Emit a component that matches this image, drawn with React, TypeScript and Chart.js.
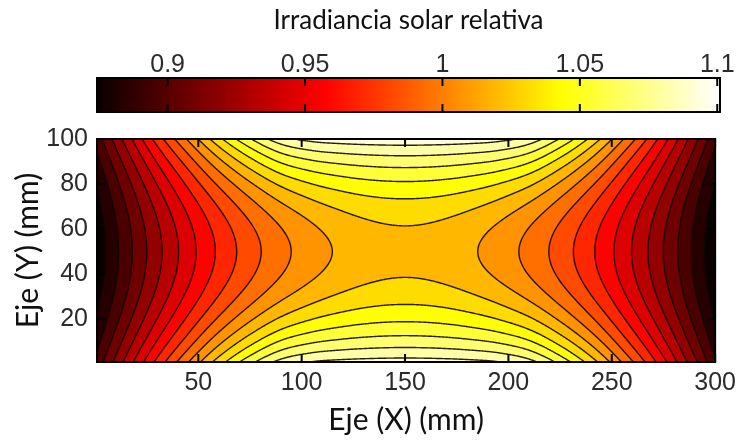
import React, { useEffect, useRef } from "react";
import { Chart, registerables } from "chart.js";

Chart.register(...registerables);

// Sampling grid of the measurement plane (mm)
const xPositionsMm = [0, 15, 30, 45, 60, 75, 90, 105, 120, 135, 150, 165, 180, 195, 210, 225, 240, 255, 270, 285, 300];
const yPositionsMm = [0, 10, 20, 30, 40, 50, 60, 70, 80, 90, 100];

// Relative solar irradiance, one row per y position (y = 0 first)
const irradianceRows: number[][] = [
  [0.8993, 0.9379, 0.9751, 1.0085, 1.0405, 1.0676, 1.0884, 1.0969, 1.0995, 1.1006, 1.1010, 1.1006, 1.0995, 1.0969, 1.0884, 1.0676, 1.0405, 1.0085, 0.9751, 0.9379, 0.8993],
  [0.8899, 0.9252, 0.9584, 0.9881, 1.0159, 1.0393, 1.0577, 1.0670, 1.0714, 1.0738, 1.0746, 1.0738, 1.0714, 1.0670, 1.0577, 1.0393, 1.0159, 0.9881, 0.9584, 0.9252, 0.8899],
  [0.8826, 0.9153, 0.9455, 0.9723, 0.9967, 1.0173, 1.0337, 1.0437, 1.0496, 1.0530, 1.0541, 1.0530, 1.0496, 1.0437, 1.0337, 1.0173, 0.9967, 0.9723, 0.9455, 0.9153, 0.8826],
  [0.8774, 0.9082, 0.9362, 0.9610, 0.9830, 1.0016, 1.0166, 1.0271, 1.0340, 1.0381, 1.0394, 1.0381, 1.0340, 1.0271, 1.0166, 1.0016, 0.9830, 0.9610, 0.9362, 0.9082, 0.8774],
  [0.8743, 0.9040, 0.9307, 0.9542, 0.9748, 0.9922, 1.0064, 1.0171, 1.0246, 1.0291, 1.0306, 1.0291, 1.0246, 1.0171, 1.0064, 0.9922, 0.9748, 0.9542, 0.9307, 0.9040, 0.8743],
  [0.8732, 0.9026, 0.9288, 0.9520, 0.9721, 0.9891, 1.0030, 1.0138, 1.0215, 1.0261, 1.0277, 1.0261, 1.0215, 1.0138, 1.0030, 0.9891, 0.9721, 0.9520, 0.9288, 0.9026, 0.8732],
  [0.8743, 0.9040, 0.9307, 0.9542, 0.9748, 0.9922, 1.0064, 1.0171, 1.0246, 1.0291, 1.0306, 1.0291, 1.0246, 1.0171, 1.0064, 0.9922, 0.9748, 0.9542, 0.9307, 0.9040, 0.8743],
  [0.8774, 0.9082, 0.9362, 0.9610, 0.9830, 1.0016, 1.0166, 1.0271, 1.0340, 1.0381, 1.0394, 1.0381, 1.0340, 1.0271, 1.0166, 1.0016, 0.9830, 0.9610, 0.9362, 0.9082, 0.8774],
  [0.8826, 0.9153, 0.9455, 0.9723, 0.9967, 1.0173, 1.0337, 1.0437, 1.0496, 1.0530, 1.0541, 1.0530, 1.0496, 1.0437, 1.0337, 1.0173, 0.9967, 0.9723, 0.9455, 0.9153, 0.8826],
  [0.8899, 0.9252, 0.9584, 0.9881, 1.0159, 1.0393, 1.0577, 1.0670, 1.0714, 1.0738, 1.0746, 1.0738, 1.0714, 1.0670, 1.0577, 1.0393, 1.0159, 0.9881, 0.9584, 0.9252, 0.8899],
  [0.8993, 0.9379, 0.9751, 1.0085, 1.0405, 1.0676, 1.0884, 1.0969, 1.0995, 1.1006, 1.1010, 1.1006, 1.0995, 1.0969, 1.0884, 1.0676, 1.0405, 1.0085, 0.9751, 0.9379, 0.8993],
];

// Iso-irradiance levels of the filled contour map
const contourLevels = [
  0.8837, 0.8960, 0.9083, 0.9206, 0.9329, 0.9453, 0.9576, 0.9699, 0.9822,
  0.9945, 1.0069, 1.0192, 1.0315, 1.0438, 1.0561, 1.0685, 1.0808, 1.0931,
];

const colorLimits = [0.8743, 1.101];
const colorbarTicks = [0.9, 0.95, 1, 1.05, 1.1];
const xAxisRange = [1, 300];
const yAxisRange = [1, 100];
const xTicks = [50, 100, 150, 200, 250, 300];
const yTicks = [20, 40, 60, 80, 100];

const TITLE = "Irradiancia solar relativa";
const X_TITLE = "Eje (X) (mm)";
const Y_TITLE = "Eje (Y) (mm)";

const NUM_FONT = "'Liberation Sans', Arial, Helvetica, sans-serif";
const TEXT_FONT = "Lato, 'Open Sans', sans-serif";
const NUM_COLOR = "#2b2b2b";
const NUM_SIZE = 25;

// MATLAB-style "hot" colormap (64-entry ramps, evaluated continuously)
function hot(t: number): [number, number, number] {
  const c = Math.min(1, Math.max(0, t));
  const k = 63 * c;
  const r = Math.min(1, (k + 1) / 24);
  const g = Math.min(1, Math.max(0, (k - 23) / 24));
  const b = Math.min(1, Math.max(0, (k - 47) / 16));
  return [Math.round(r * 255), Math.round(g * 255), Math.round(b * 255)];
}

function toUnit(v: number) {
  return (v - colorLimits[0]) / (colorLimits[1] - colorLimits[0]);
}

// Bicubic (Catmull-Rom) sampler over the measurement grid
function makeSampler() {
  const nx = xPositionsMm.length;
  const ny = yPositionsMm.length;
  const x0 = xPositionsMm[0];
  const dx = xPositionsMm[1] - xPositionsMm[0];
  const y0 = yPositionsMm[0];
  const dy = yPositionsMm[1] - yPositionsMm[0];
  const at = (i: number, j: number): number => {
    if (i < 0) return 3 * at(0, j) - 3 * at(1, j) + at(2, j);
    if (i > nx - 1) return 3 * at(nx - 1, j) - 3 * at(nx - 2, j) + at(nx - 3, j);
    if (j < 0) return 3 * at(i, 0) - 3 * at(i, 1) + at(i, 2);
    if (j > ny - 1) return 3 * at(i, ny - 1) - 3 * at(i, ny - 2) + at(i, ny - 3);
    return irradianceRows[j][i];
  };
  const cr = (p0: number, p1: number, p2: number, p3: number, t: number) =>
    p1 + 0.5 * t * (p2 - p0 + t * (2 * p0 - 5 * p1 + 4 * p2 - p3 + t * (3 * (p1 - p2) + p3 - p0)));
  return (x: number, y: number) => {
    const gx = (x - x0) / dx;
    let i = Math.floor(gx);
    if (i < 0) i = 0;
    if (i > nx - 2) i = nx - 2;
    const tx = gx - i;
    const gy = (y - y0) / dy;
    let j = Math.floor(gy);
    if (j < 0) j = 0;
    if (j > ny - 2) j = ny - 2;
    const ty = gy - j;
    const r: number[] = [];
    for (let k = -1; k <= 2; k++) {
      r.push(cr(at(i - 1, j + k), at(i, j + k), at(i + 1, j + k), at(i + 2, j + k), tx));
    }
    return cr(r[0], r[1], r[2], r[3], ty);
  };
}

// Marching-squares segment table: pairs of cell edges (0 top, 1 right, 2 bottom, 3 left)
const SEGMENTS: number[][] = [
  [], [3, 2], [2, 1], [3, 1], [0, 1], [0, 1, 3, 2], [0, 2], [0, 3],
  [0, 3], [0, 2], [0, 3, 2, 1], [0, 1], [3, 1], [1, 2], [3, 2], [],
];

const contourPlugin = {
  id: "irradianceContours",
  beforeDatasetsDraw(chart: any) {
    const { ctx, chartArea: a, scales } = chart;
    const xs = scales.x;
    const ys = scales.y;
    const W = Math.round(a.right - a.left);
    const H = Math.round(a.bottom - a.top);
    const sample = makeSampler();
    const vals = new Float32Array(W * H);
    const xmm = new Float64Array(W);
    for (let c = 0; c < W; c++) xmm[c] = xs.getValueForPixel(a.left + c + 0.5);
    for (let r = 0; r < H; r++) {
      const ymm = ys.getValueForPixel(a.top + r + 0.5);
      for (let c = 0; c < W; c++) vals[r * W + c] = sample(xmm[c], ymm);
    }

    // filled bands, each coloured by its lower bound
    const bandColors = [];
    for (let b = 0; b <= contourLevels.length; b++) {
      const lower = b === 0 ? colorLimits[0] : contourLevels[b - 1];
      bandColors.push(hot(toUnit(lower)));
    }
    const off = document.createElement("canvas");
    off.width = W;
    off.height = H;
    const octx = off.getContext("2d")!;
    const img = octx.createImageData(W, H);
    for (let p = 0; p < W * H; p++) {
      const v = vals[p];
      let b = 0;
      while (b < contourLevels.length && v >= contourLevels[b]) b++;
      const col = bandColors[b];
      img.data[p * 4] = col[0];
      img.data[p * 4 + 1] = col[1];
      img.data[p * 4 + 2] = col[2];
      img.data[p * 4 + 3] = 255;
    }
    octx.putImageData(img, 0, 0);
    ctx.drawImage(off, a.left, a.top);

    // iso-lines
    ctx.save();
    ctx.beginPath();
    ctx.rect(a.left, a.top, W, H);
    ctx.clip();
    ctx.strokeStyle = "rgba(15,6,0,0.9)";
    ctx.lineWidth = 1.4;
    ctx.lineCap = "round";
    const ox = a.left + 0.5;
    const oy = a.top + 0.5;
    for (const L of contourLevels) {
      ctx.beginPath();
      for (let r = 0; r < H - 1; r++) {
        for (let c = 0; c < W - 1; c++) {
          const v0 = vals[r * W + c];
          const v1 = vals[r * W + c + 1];
          const v2 = vals[(r + 1) * W + c + 1];
          const v3 = vals[(r + 1) * W + c];
          const code = (v0 >= L ? 8 : 0) | (v1 >= L ? 4 : 0) | (v2 >= L ? 2 : 0) | (v3 >= L ? 1 : 0);
          if (code === 0 || code === 15) continue;
          const seg = SEGMENTS[code];
          const pt = (e: number): [number, number] => {
            if (e === 0) return [c + (L - v0) / (v1 - v0), r];
            if (e === 1) return [c + 1, r + (L - v1) / (v2 - v1)];
            if (e === 2) return [c + (L - v3) / (v2 - v3), r + 1];
            return [c, r + (L - v0) / (v3 - v0)];
          };
          for (let s = 0; s < seg.length; s += 2) {
            const p1 = pt(seg[s]);
            const p2 = pt(seg[s + 1]);
            ctx.moveTo(ox + p1[0], oy + p1[1]);
            ctx.lineTo(ox + p2[0], oy + p2[1]);
          }
        }
      }
      ctx.stroke();
    }
    ctx.restore();
  },
  afterDraw(chart: any) {
    const { ctx, chartArea: a, scales } = chart;
    ctx.save();
    ctx.strokeStyle = "#000";
    ctx.lineWidth = 2;
    ctx.beginPath();
    const tl = 8;
    for (const t of xTicks) {
      const px = scales.x.getPixelForValue(t);
      ctx.moveTo(px, a.bottom);
      ctx.lineTo(px, a.bottom - tl);
      ctx.moveTo(px, a.top);
      ctx.lineTo(px, a.top + tl);
    }
    for (const t of yTicks) {
      const py = scales.y.getPixelForValue(t);
      ctx.moveTo(a.left, py);
      ctx.lineTo(a.left + tl, py);
      ctx.moveTo(a.right, py);
      ctx.lineTo(a.right - tl, py);
    }
    ctx.stroke();
    ctx.strokeRect(a.left, a.top, a.right - a.left, a.bottom - a.top);
    ctx.restore();
  },
};

const colorbarPlugin = {
  id: "irradianceColorbar",
  beforeDatasetsDraw(chart: any) {
    const { ctx, chartArea: a, scales } = chart;
    const xs = scales.x;
    ctx.save();
    for (let px = Math.floor(a.left); px < Math.ceil(a.right); px++) {
      const v = xs.getValueForPixel(px + 0.5);
      const [r, g, b] = hot(toUnit(v));
      ctx.fillStyle = `rgb(${r},${g},${b})`;
      ctx.fillRect(px, a.top, 1, a.bottom - a.top);
    }
    ctx.strokeStyle = "#000";
    ctx.lineWidth = 2;
    ctx.beginPath();
    for (const t of colorbarTicks) {
      const px = xs.getPixelForValue(t);
      ctx.moveTo(px, a.top);
      ctx.lineTo(px, a.top + 8);
      ctx.moveTo(px, a.bottom);
      ctx.lineTo(px, a.bottom - 8);
    }
    ctx.stroke();
    ctx.strokeRect(a.left, a.top, a.right - a.left, a.bottom - a.top);
    ctx.restore();
  },
};

export default function App() {
  const mainRef = useRef<HTMLCanvasElement | null>(null);
  const barRef = useRef<HTMLCanvasElement | null>(null);

  useEffect(() => {
    if (!mainRef.current || !barRef.current) return;

    const main = new Chart(mainRef.current, {
      type: "scatter",
      data: { datasets: [] },
      plugins: [contourPlugin],
      options: {
        responsive: false,
        animation: false,
        devicePixelRatio: 1,
        layout: { padding: { top: 139, right: 22, bottom: 0, left: 0 } },
        plugins: { legend: { display: false }, tooltip: { enabled: false }, title: { display: false } },
        scales: {
          x: {
            type: "linear",
            min: xAxisRange[0],
            max: xAxisRange[1],
            grid: { display: false, drawTicks: false },
            border: { display: false },
            afterBuildTicks: (s: any) => {
              s.ticks = xTicks.map((v) => ({ value: v }));
            },
            afterFit: (s: any) => {
              s.height = 80;
            },
            ticks: {
              autoSkip: false,
              maxRotation: 0,
              padding: 6,
              color: NUM_COLOR,
              font: { family: NUM_FONT, size: NUM_SIZE },
              callback: (v: any) => String(v),
            },
            title: {
              display: true,
              text: X_TITLE,
              color: "#111",
              font: { family: TEXT_FONT, size: 30 },
              padding: { top: 0, bottom: 4 },
            },
          },
          y: {
            type: "linear",
            min: yAxisRange[0],
            max: yAxisRange[1],
            grid: { display: false, drawTicks: false },
            border: { display: false },
            afterBuildTicks: (s: any) => {
              s.ticks = yTicks.map((v) => ({ value: v }));
            },
            afterFit: (s: any) => {
              s.width = 97;
            },
            ticks: {
              autoSkip: false,
              padding: 9,
              color: NUM_COLOR,
              font: { family: NUM_FONT, size: NUM_SIZE },
              callback: (v: any) => String(v),
            },
            title: {
              display: true,
              text: Y_TITLE,
              color: "#111",
              font: { family: TEXT_FONT, size: 30 },
              padding: { top: 10, bottom: 0 },
            },
          },
        },
      },
    } as any);

    const bar = new Chart(barRef.current, {
      type: "scatter",
      data: { datasets: [] },
      plugins: [colorbarPlugin],
      options: {
        responsive: false,
        animation: false,
        devicePixelRatio: 1,
        layout: { padding: { top: 0, right: 22, bottom: 13, left: 97 } },
        plugins: {
          legend: { display: false },
          tooltip: { enabled: false },
          title: {
            display: true,
            text: TITLE,
            color: "#111",
            font: { family: TEXT_FONT, size: 26, weight: "normal" },
            padding: { top: 5, bottom: 0 },
          },
        },
        scales: {
          x: {
            type: "linear",
            position: "top",
            min: colorLimits[0],
            max: colorLimits[1],
            grid: { display: false, drawTicks: false },
            border: { display: false },
            afterBuildTicks: (s: any) => {
              s.ticks = colorbarTicks.map((v) => ({ value: v }));
            },
            afterFit: (s: any) => {
              s.height = 41.8;
            },
            ticks: {
              autoSkip: false,
              maxRotation: 0,
              padding: -2,
              color: NUM_COLOR,
              font: { family: NUM_FONT, size: NUM_SIZE },
              callback: (v: any) => String(v),
            },
          },
          y: { display: false, min: 0, max: 1 },
        },
      },
    } as any);

    return () => {
      main.destroy();
      bar.destroy();
    };
  }, []);

  return (
    <div style={{ position: "absolute", left: 0, top: 0, width: 742, height: 442, background: "#fff" }}>
      <canvas ref={mainRef} width={742} height={442} style={{ position: "absolute", left: 0, top: 0 }} />
      <canvas ref={barRef} width={742} height={125} style={{ position: "absolute", left: 0, top: 0 }} />
    </div>
  );
}
